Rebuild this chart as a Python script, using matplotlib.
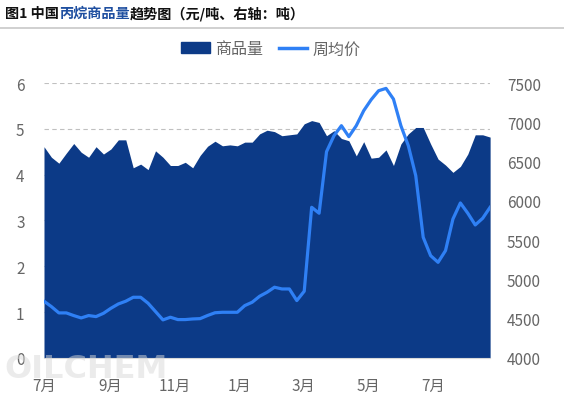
import matplotlib
matplotlib.use("Agg")
import matplotlib.pyplot as plt
from matplotlib.patches import Patch
from matplotlib.lines import Line2D
import pandas as pd

plt.rcParams["font.family"] = ["Noto Sans CJK SC", "DejaVu Sans"]

START = "2023-07-01"
VOLUME = [4.61, 4.38, 4.25, 4.47, 4.68, 4.49, 4.38, 4.61, 4.45, 4.56,
          4.76, 4.76, 4.15, 4.23, 4.11, 4.52, 4.38, 4.20, 4.20, 4.27,
          4.15, 4.42, 4.62, 4.73, 4.63, 4.65, 4.63, 4.71, 4.71, 4.89,
          4.97, 4.94, 4.85, 4.87, 4.89, 5.11, 5.18, 5.14, 4.85, 4.96,
          4.79, 4.74, 4.41, 4.72, 4.36, 4.38, 4.54, 4.20, 4.67, 4.89,
          5.03, 5.03, 4.67, 4.34, 4.21, 4.05, 4.18, 4.45, 4.87, 4.87,
          4.82]
PRICE = [4722, 4653, 4573, 4573, 4539, 4509, 4539, 4526, 4568, 4632,
         4687, 4722, 4772, 4772, 4696, 4590, 4484, 4518, 4488, 4488,
         4496, 4500, 4540, 4575, 4581, 4581, 4581, 4666, 4709, 4785,
         4836, 4900, 4878, 4878, 4730, 4849, 5918, 5842, 6626, 6829,
         6957, 6817, 6957, 7148, 7288, 7402, 7432, 7296, 6957, 6702,
         6320, 5536, 5302, 5217, 5366, 5769, 5973, 5842, 5693, 5778,
         5918]
MONTH_TICKS = ["2023-07-01", "2023-09-01", "2023-11-01", "2024-01-01",
               "2024-03-01", "2024-05-01", "2024-07-01"]
MONTH_LABELS = ["7月", "9月", "11月", "1月", "3月", "5月", "7月"]
LEFT_TICKS = [0, 1, 2, 3, 4, 5, 6]
RIGHT_TICKS = [4000, 4500, 5000, 5500, 6000, 6500, 7000, 7500]

AREA_COLOR = "#0c3a87"
LINE_COLOR = "#2f80f5"
TEXT_COLOR = "#666666"

dates = pd.date_range(START, periods=len(VOLUME), freq="7D")

fig = plt.figure(figsize=(5.64, 4.06), dpi=100)
ax = fig.add_axes([0.078, 0.116, 0.791, 0.677])
ax2 = ax.twinx()

ax.fill_between(dates, VOLUME, 0, color=AREA_COLOR, linewidth=0, zorder=2)
ax2.plot(dates, PRICE, color=LINE_COLOR, linewidth=2.3, zorder=3)

ax.set_xlim(dates[0], dates[-1])
ax.set_ylim(0, 6)
ax2.set_ylim(4000, 7500)
ax.set_yticks(LEFT_TICKS)
ax2.set_yticks(RIGHT_TICKS)
ax.set_xticks(pd.to_datetime(MONTH_TICKS))
ax.set_xticklabels(MONTH_LABELS)

ax.grid(axis="y", color="#c0c0c0", linestyle=(0, (4, 3)), linewidth=0.8, zorder=0)
ax.set_axisbelow(True)

for a in (ax, ax2):
    for s in a.spines.values():
        s.set_visible(False)
    a.tick_params(length=0, labelsize=11, colors=TEXT_COLOR)
ax.spines["bottom"].set_visible(True)
ax.spines["bottom"].set_color("#d9d9d9")
ax.tick_params(axis="y", pad=14)
ax.tick_params(axis="x", pad=14)
ax2.tick_params(axis="y", pad=12)

handles = [Patch(color=AREA_COLOR), Line2D([0], [0], color=LINE_COLOR, linewidth=2.5)]
fig.legend(handles, ["商品量", "周均价"], loc="center", bbox_to_anchor=(0.48, 0.877),
           ncol=2, frameon=False, fontsize=11.5, labelcolor="#666666",
           handlelength=1.8, handletextpad=0.3, columnspacing=1.0)

# title in three pieces, middle one blue
fig.canvas.draw()
renderer = fig.canvas.get_renderer()
x = 0.009
for part, col in [("图1 中国", "#111111"), ("丙烷商品量", "#1f4fa0"), ("趋势图（元/吨、右轴：吨）", "#111111")]:
    t = fig.text(x, 0.965, part, fontsize=10.2, fontweight="bold", color=col, va="center")
    bb = t.get_window_extent(renderer)
    x += bb.width / fig.bbox.width
fig.add_artist(Line2D([0, 1], [0.928, 0.928], color="#c8c8c8", linewidth=1.2, transform=fig.transFigure))

fig.text(0.008, 0.09, "OILCHEM", fontsize=23, fontweight="bold", color="#d8d8d8",
         alpha=0.5, family="DejaVu Sans", va="center", zorder=10)

fig.savefig("out.png", dpi=100)
